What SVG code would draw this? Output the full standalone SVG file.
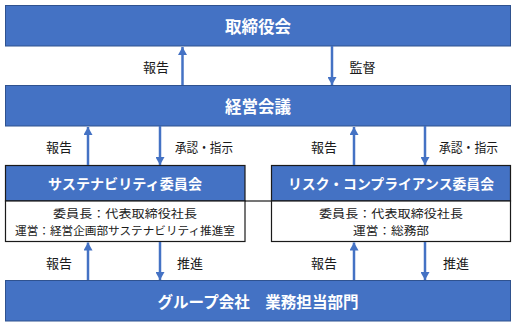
<svg xmlns="http://www.w3.org/2000/svg" width="516" height="326" viewBox="0 0 516 326">
<style>
.main{fill:#4472C4;stroke:#2F528F;stroke-width:1}
.head{fill:#4472C4;stroke:#1a1a1a;stroke-width:1.2}
.body{fill:#ffffff;stroke:#1a1a1a;stroke-width:1.2}
.t{font-family:"Noto Sans CJK JP","Noto Sans",sans-serif;text-anchor:middle;dominant-baseline:central}
.tw{fill:#ffffff;font-weight:bold}
.tb{fill:#1a1a1a;font-size:11.3px}
.lbl{fill:#1a1a1a;font-size:13px}
.arr{stroke:#4472C4;stroke-width:2.5;fill:none;marker-end:url(#ah)}
</style>
<defs>
<marker id="ah" markerUnits="userSpaceOnUse" markerWidth="9" markerHeight="9" refX="8" refY="4.5" orient="auto">
<path d="M0,0 L8,4.5 L0,9 z" fill="#4472C4"/>
</marker>
</defs>
<g id="board">
<rect class="main" x="5.5" y="5.5" width="505" height="40.5"/>
<text class="t tw" x="258" y="26" font-size="16.5">取締役会</text>
</g>
<g id="management">
<rect class="main" x="5.5" y="85.5" width="505" height="40.5"/>
<text class="t tw" x="258" y="105.5" font-size="16.5">経営会議</text>
</g>
<g id="sustainability">
<rect class="head" x="5.5" y="165.5" width="239.5" height="35.5"/>
<rect class="body" x="5.5" y="201" width="239.5" height="40.5"/>
<text class="t tw" x="125" y="183" font-size="14" textLength="154" lengthAdjust="spacingAndGlyphs">サステナビリティ委員会</text>
<text class="t tb" x="125" y="213" textLength="144" lengthAdjust="spacingAndGlyphs">委員長：代表取締役社長</text>
<text class="t tb" x="125" y="229.5" textLength="220" lengthAdjust="spacingAndGlyphs">運営：経営企画部サステナビリティ推進室</text>
</g>
<g id="compliance">
<rect class="head" x="271.5" y="165.5" width="239" height="35.5"/>
<rect class="body" x="271.5" y="201" width="239" height="40.5"/>
<text class="t tw" x="391" y="183" font-size="14" textLength="206" lengthAdjust="spacingAndGlyphs">リスク・コンプライアンス委員会</text>
<text class="t tb" x="391" y="213" textLength="144" lengthAdjust="spacingAndGlyphs">委員長：代表取締役社長</text>
<text class="t tb" x="391" y="229.5" textLength="76" lengthAdjust="spacingAndGlyphs">運営：総務部</text>
</g>
<g id="group">
<rect class="main" x="5.5" y="280.5" width="505" height="40.5"/>
<text class="t tw" x="258" y="300.5" font-size="15.5" textLength="201" lengthAdjust="spacingAndGlyphs">グループ会社　業務担当部門</text>
</g>
<g id="connectors">
<line x1="245" y1="201" x2="271.5" y2="201" stroke="#1a1a1a" stroke-width="1.2"/>
<line class="arr" x1="182.5" y1="85" x2="182.5" y2="47"/>
<line class="arr" x1="332" y1="46" x2="332" y2="85"/>
<line class="arr" x1="88" y1="165" x2="88" y2="127"/>
<line class="arr" x1="160" y1="126" x2="160" y2="165"/>
<line class="arr" x1="354" y1="165" x2="354" y2="127"/>
<line class="arr" x1="425" y1="126" x2="425" y2="165"/>
<line class="arr" x1="88" y1="280" x2="88" y2="242.5"/>
<line class="arr" x1="160" y1="242" x2="160" y2="280"/>
<line class="arr" x1="354" y1="280" x2="354" y2="242.5"/>
<line class="arr" x1="425" y1="242" x2="425" y2="280"/>
</g>
<g id="labels">
<text class="t lbl" x="156" y="66">報告</text>
<text class="t lbl" x="362.5" y="66">監督</text>
<text class="t lbl" x="59" y="146">報告</text>
<text class="t lbl" x="204" y="146" textLength="58" lengthAdjust="spacingAndGlyphs">承認・指示</text>
<text class="t lbl" x="324" y="146">報告</text>
<text class="t lbl" x="468.5" y="146" textLength="59" lengthAdjust="spacingAndGlyphs">承認・指示</text>
<text class="t lbl" x="59" y="262">報告</text>
<text class="t lbl" x="190" y="262">推進</text>
<text class="t lbl" x="324" y="262">報告</text>
<text class="t lbl" x="456" y="262">推進</text>
</g>
</svg>
